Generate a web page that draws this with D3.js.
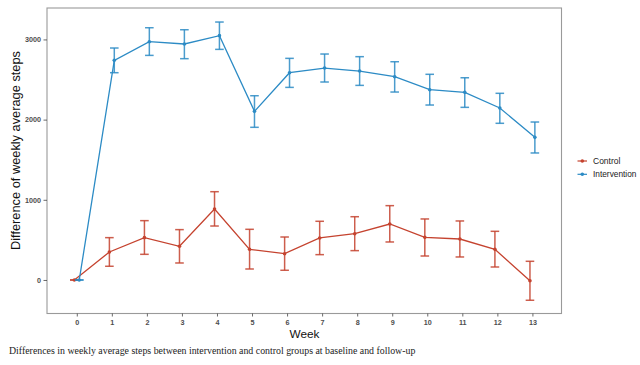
<!DOCTYPE html>
<html><head><meta charset="utf-8">
<script src="https://cdn.jsdelivr.net/npm/d3@7"></script>
<style>body{margin:0;background:#fff}svg{display:block}</style>
</head><body>
<script>
const weeks = [0,1,2,3,4,5,6,7,8,9,10,11,12,13];
const controlMean = [0,349,528,420,885,382,328,524,577,698,532,511,382,-9];
const controlLow  = [0,171,320,212,673,137,121,316,366,474,299,287,162,-253];
const controlHigh = [0,528,740,628,1101,632,536,732,789,927,761,736,607,233];
const interMean = [0,2739,2972,2943,3047,2103,2585,2643,2606,2535,2373,2340,2145,1779];
const interLow  = [0,2585,2801,2760,2876,1904,2402,2469,2427,2344,2182,2153,1954,1584];
const interHigh = [0,2893,3146,3121,3217,2298,2764,2818,2785,2722,2565,2522,2328,1970];
const yTicks = [0,1000,2000,3000];
const seriesNames = ["Control","Intervention"];
const colors = ["#c5432f","#2c8bc5"];

const W=640,H=365;
const SANS="Liberation Sans, Arial, sans-serif";
const svg=d3.select("body").append("svg").attr("width",W).attr("height",H);
const P={l:47,r:561.5,t:8,b:313.5};
const x=d3.scaleLinear().domain([-0.85,13.83]).range([P.l,P.r]);
const y=d3.scaleLinear().domain([-418,3392]).range([P.b,P.t]);

function fit(sel, target){
  const fs=+sel.attr("font-size");
  const len=sel.node().getComputedTextLength();
  sel.attr("font-size",fs*target/len);
}

// panel border
svg.append("rect").attr("x",P.l).attr("y",P.t).attr("width",P.r-P.l).attr("height",P.b-P.t)
  .attr("fill","none").attr("stroke","#9a9a9a").attr("stroke-width",1.1);

// axes
const xa=svg.append("g").attr("transform",`translate(0,${P.b})`)
  .call(d3.axisBottom(x).tickValues(weeks).tickSize(3).tickPadding(3).tickFormat(d3.format("d")));
const ya=svg.append("g").attr("transform",`translate(${P.l},0)`)
  .call(d3.axisLeft(y).tickValues(yTicks).tickSize(3.5).tickPadding(2.5).tickFormat(d3.format("d")));
[xa,ya].forEach(a=>{
  a.select(".domain").remove();
  a.selectAll("line").attr("stroke","#444").attr("stroke-width",0.8);
  a.selectAll("text").attr("fill","#4d4d4d").attr("font-family",SANS)
   .attr("font-size",8).attr("font-weight","bold");
});
// size y tick labels so "3000" is ~16px wide
{
  const t=ya.selectAll("text").filter(d=>d===3000);
  const len=t.node().getComputedTextLength();
  const fs=8*16/len;
  xa.selectAll("text").attr("font-size",fs);
  ya.selectAll("text").attr("font-size",fs);
}

const dodge=[-0.07,0.07];
const data=[
  {m:controlMean,lo:controlLow,hi:controlHigh},
  {m:interMean,lo:interLow,hi:interHigh}
];
data.forEach((s,i)=>{
  const g=svg.append("g");
  const c=colors[i];
  const pts=weeks.map((w,j)=>({x:w+dodge[i],m:s.m[j],lo:s.lo[j],hi:s.hi[j]}));
  const cap=4.3;
  pts.forEach(p=>{
    const px=x(p.x);
    g.append("line").attr("x1",px).attr("x2",px).attr("y1",y(p.lo)).attr("y2",y(p.hi))
      .attr("stroke",c).attr("stroke-width",1.5).attr("opacity",0.85);
    [p.lo,p.hi].forEach(v=>g.append("line").attr("x1",px-cap).attr("x2",px+cap).attr("y1",y(v)).attr("y2",y(v))
      .attr("stroke",c).attr("stroke-width",1.5).attr("opacity",0.85));
  });
  g.append("path").datum(pts).attr("fill","none").attr("stroke",c).attr("stroke-width",1.3)
    .attr("d",d3.line().x(d=>x(d.x)).y(d=>y(d.m)));
  g.selectAll("circle").data(pts).join("circle").attr("cx",d=>x(d.x)).attr("cy",d=>y(d.m))
    .attr("r",1.8).attr("fill",c);
});

// axis titles
const wk=svg.append("text").attr("x",304.5).attr("y",337.5).attr("text-anchor","middle")
  .attr("font-family",SANS).attr("font-size",14).attr("fill","#111").text("Week");
fit(wk,30);
const yt=svg.append("text").attr("transform","translate(19.5,150.5) rotate(-90)").attr("text-anchor","middle")
  .attr("font-family",SANS).attr("font-size",13).attr("fill","#111")
  .text("Difference of weekly average steps");
fit(yt,199);

// legend
seriesNames.forEach((n,i)=>{
  const ly=161+i*13.3;
  svg.append("line").attr("x1",577.5).attr("x2",587).attr("y1",ly).attr("y2",ly).attr("stroke",colors[i]).attr("stroke-width",1.2);
  svg.append("circle").attr("cx",582.3).attr("cy",ly).attr("r",1.8).attr("fill",colors[i]);
  const t=svg.append("text").attr("x",593).attr("y",ly+3).attr("font-family",SANS)
    .attr("font-size",8.5).attr("fill","#222").text(n);
  if(n==="Intervention") fit(t,43.5);
});

// caption
const cap=svg.append("text").attr("x",9).attr("y",354)
  .attr("font-family","Liberation Serif, DejaVu Serif, serif").attr("font-size",11).attr("fill","#222")
  .text("Differences in weekly average steps between intervention and control groups at baseline and follow-up");
fit(cap,406.5);
</script>
</body></html>
